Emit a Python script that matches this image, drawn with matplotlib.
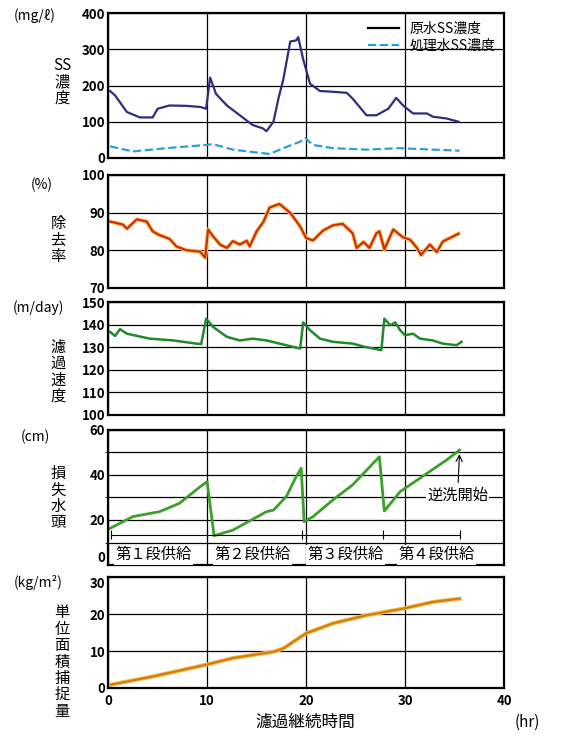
import matplotlib.pyplot as plt

plt.rcParams['font.family'] = ['Noto Sans CJK JP', 'DejaVu Sans']

# 原水・処理水SS濃度 (mg/l)
t_raw = [0.2, 0.7, 1.9, 3.2, 4.5, 5.0, 6.2, 7.9, 9.3, 9.9, 10.3, 10.9, 12.0, 13.3, 14.6,
         15.6, 16.0, 16.7, 17.2, 17.7, 18.4, 19.0, 19.2, 19.7, 20.4, 21.4, 22.7, 24.1,
         24.7, 26.1, 27.1, 28.3, 29.1, 29.8, 30.8, 32.2, 32.8, 34.2, 35.4]
ss_raw = [185, 173, 127, 112, 112, 136, 145, 144, 141, 136, 222, 177, 145, 118, 91,
          82, 74, 100, 164, 218, 322, 325, 334, 273, 205, 185, 183, 180,
          164, 118, 118, 136, 166, 145, 123, 123, 114, 109, 100]
t_treat = [0.2, 2.5, 5.9, 9.9, 10.6, 12.6, 15.3, 16.3, 17.7, 19.4, 19.9, 20.7, 22.7,
           26.1, 29.4, 32.8, 35.5]
ss_treat = [32, 18, 27, 36, 38, 23, 14, 11, 27, 45, 55, 36, 27, 23, 27, 23, 20]

# 除去率 (%)
t_rem = [0.2, 1.5, 1.9, 2.9, 3.9, 4.5, 5.2, 6.2, 6.9, 7.9, 9.3, 9.8, 10.1, 10.6, 11.3,
         12.0, 12.6, 13.3, 14.0, 14.3, 15.0, 15.7, 16.3, 17.3, 18.4, 19.4, 20.0, 20.7,
         21.7, 22.7, 23.7, 24.7, 25.1, 25.8, 26.4, 27.1, 27.4, 27.9, 28.8, 29.8, 30.5,
         31.2, 31.6, 32.5, 33.2, 33.8, 34.5, 35.4]
removal = [87.6, 86.8, 85.7, 88.2, 87.6, 85.0, 84.0, 83.0, 81.0, 80.0, 79.6, 78.0, 85.5,
           83.7, 81.5, 80.6, 82.4, 81.5, 82.5, 81.0, 85.0, 87.6, 91.3, 92.3, 89.9, 86.3,
           83.2, 82.6, 85.2, 86.6, 87.0, 84.5, 80.6, 82.2, 80.6, 84.5, 85.0, 80.2, 85.5,
           83.4, 82.8, 80.6, 78.7, 81.5, 79.5, 82.3, 83.2, 84.4]

# 濾過速度 (m/day)
t_rate = [0.2, 0.7, 1.2, 1.9, 4.2, 6.6, 8.9, 9.4, 9.9, 10.6, 12.0, 13.3, 14.6, 16.0,
          18.0, 19.4, 19.7, 20.4, 21.4, 22.7, 24.7, 26.1, 27.6, 27.9, 28.5, 29.0, 29.5,
          30.0, 30.8, 31.5, 32.8, 33.8, 35.2, 35.7]
rate = [136.8, 135.0, 138.0, 136.0, 133.8, 133.0, 131.6, 131.4, 142.6, 139.0, 134.6,
        133.0, 133.8, 133.0, 130.9, 129.4, 141.0, 137.5, 133.8, 132.4, 131.6, 130.0,
        128.7, 142.6, 139.7, 141.0, 137.5, 135.3, 136.0, 133.8, 133.0, 131.6, 130.9, 132.4]

# 損失水頭 (cm)
t_head = [0.2, 2.5, 5.2, 7.2, 9.3, 10.0, 10.7, 12.6, 16.0, 16.7, 18.0, 19.0, 19.5, 19.8,
          20.7, 22.7, 24.7, 27.4, 27.9, 29.5, 32.2, 34.2, 35.5]
head = [16.3, 21.5, 23.7, 27.4, 34.8, 37.0, 13.0, 15.5, 23.7, 24.4, 30.4, 39.3, 43.0,
        19.3, 21.5, 28.9, 35.6, 48.1, 24.0, 32.6, 40.7, 46.7, 51.1]
stage_labels = ['第１段供給', '第２段供給', '第３段供給', '第４段供給']
stage_pos = [4.6, 14.6, 24.0, 33.2]
stage_bounds = [0.3, 10.0, 19.6, 27.8, 35.5]

# 単位面積捕捉量 (kg/m2)
t_cap = [0.3, 4.5, 9.9, 12.6, 16.7, 17.7, 18.7, 20.0, 22.7, 26.1, 29.8, 32.8, 35.5]
capture = [0.9, 3.1, 6.3, 8.1, 9.8, 10.7, 12.5, 14.8, 17.5, 19.7, 21.5, 23.3, 24.2]

fig = plt.figure(figsize=(5.69, 7.38), dpi=100)
L, W = 0.19, 0.696
ax1 = fig.add_axes([L, 0.786, W, 0.196])
ax2 = fig.add_axes([L, 0.610, W, 0.153])
ax3 = fig.add_axes([L, 0.4377, W, 0.153])
ax4 = fig.add_axes([L, 0.2344, W, 0.183])
ax5 = fig.add_axes([L, 0.0678, W, 0.150])

ax1.plot(t_raw, ss_raw, color='#2e2e7e', lw=1.6, label='原水SS濃度')
ax1.plot(t_treat, ss_treat, color='#2a9fd6', lw=1.6, ls='--', label='処理水SS濃度')
ax1.set_ylim(0, 400)
ax1.set_yticks([0, 100, 200, 300, 400])
leg = ax1.legend(loc='upper right', frameon=False, fontsize=10, handlelength=2.2,
                 borderaxespad=0.2, labelspacing=0.2)
leg.legend_handles[0].set_color('black')

ax2.plot(t_rem, removal, color='#f2d060', lw=3.0)
ax2.plot(t_rem, removal, color='#d42a10', lw=1.6)
ax2.set_ylim(70, 100)
ax2.set_yticks([70, 80, 90, 100])

ax3.plot(t_rate, rate, color='#1e8a2a', lw=1.8)
ax3.set_ylim(100, 150)
ax3.set_yticks([100, 110, 120, 130, 140, 150])

ax4.plot(t_head, head, color='#3aa02a', lw=2.0)
ax4.set_ylim(0, 60)
ax4.set_yticks([0, 20, 40, 60])
ax4.set_yticks([10, 30, 50], minor=True)
ax4.hlines(13.5, stage_bounds[0], stage_bounds[-1], color='black', lw=0.8)
for b in stage_bounds:
    ax4.vlines(b, 11.5, 15.5, color='black', lw=0.8)
for lab, p in zip(stage_labels, stage_pos):
    ax4.text(p, 4.5, lab, ha='center', va='center', fontsize=11,
             bbox=dict(facecolor='white', edgecolor='none', pad=1))
ax4.annotate('逆洗開始', xy=(35.5, 50.5), xytext=(35.3, 31),
             ha='center', va='center', fontsize=11,
             bbox=dict(facecolor='white', edgecolor='none', pad=1),
             arrowprops=dict(arrowstyle='->', color='black', lw=0.8))

ax5.plot(t_cap, capture, color='#f0c050', lw=3.0)
ax5.plot(t_cap, capture, color='#d87a10', lw=1.6)
ax5.set_ylim(0, 30)
ax5.set_yticks([0, 10, 20, 30])

for ax in [ax1, ax2, ax3, ax4, ax5]:
    ax.set_xlim(0, 40)
    ax.set_xticks([0, 10, 20, 30, 40])
    ax.grid(True, which='both', color='black', lw=0.9)
    ax.tick_params(length=0, labelsize=9.5, pad=2)
    for lab in ax.get_yticklabels():
        lab.set_fontweight('bold')
    for s in ax.spines.values():
        s.set_linewidth(1.6)
    if ax is not ax5:
        ax.tick_params(labelbottom=False)
for lab in ax5.get_xticklabels():
    lab.set_fontweight('bold')
ax5.tick_params(axis='x', pad=4)
# 上の段の「0」と下の段の「30」が重ならないよう少しずらす
for lab in ax4.get_yticklabels():
    if lab.get_text() == '0':
        lab.set_va('bottom')
for lab in ax5.get_yticklabels():
    if lab.get_text() == '30':
        lab.set_va('top')

# 単位・軸名
units = [('(mg/ℓ)', 35, 16), ('(%)', 42, 185), ('(m/day)', 38, 308),
         ('(cm)', 35, 437), ('(kg/m²)', 38, 582)]
for txt, px, py in units:
    fig.text(px / 569, 1 - py / 738, txt, ha='center', va='center', fontsize=10)
names = [('SS\n濃\n度', 62, 82), ('除\n去\n率', 58, 240), ('濾\n過\n速\n度', 58, 372),
         ('損\n失\n水\n頭', 58, 498), ('単\n位\n面\n積\n捕\n捉\n量', 62, 662)]
for txt, px, py in names:
    fig.text(px / 569, 1 - py / 738, txt, ha='center', va='center', fontsize=11,
             linespacing=0.95)
fig.text(305 / 569, 1 - 722 / 738, '濾過継続時間', ha='center', va='center', fontsize=12)
fig.text(527 / 569, 1 - 722 / 738, '(hr)', ha='center', va='center', fontsize=11)

plt.savefig('out.png', dpi=100)
